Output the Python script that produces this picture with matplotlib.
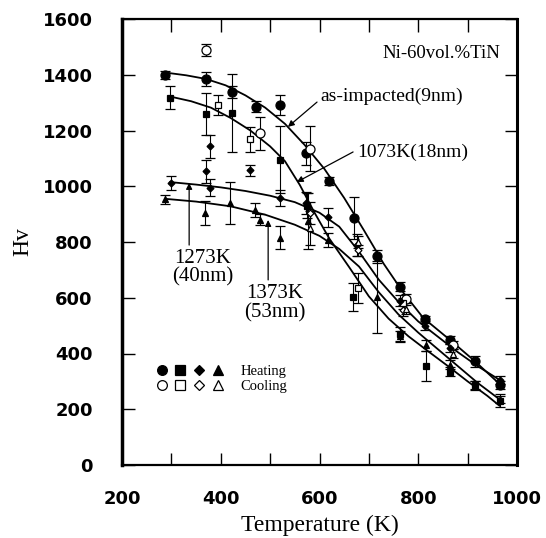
import matplotlib
matplotlib.use('Agg')
import matplotlib.pyplot as plt
from matplotlib.legend_handler import HandlerTuple
from matplotlib.lines import Line2D

# ---------------- data ----------------
# fitted curves
A_curve_x = [287, 330, 370, 410, 450, 490, 530, 570, 610, 650, 690, 730, 770, 810, 864, 915, 965]
A_curve_y = [1408, 1398, 1385, 1362, 1326, 1282, 1224, 1148, 1062, 958, 842, 722, 618, 528, 449, 372, 290]

B_curve_x = [297, 340, 380, 420, 460, 500, 530, 560, 590, 620, 660, 700, 740, 780, 820, 860, 900, 940, 965]
B_curve_y = [1322, 1305, 1282, 1245, 1200, 1143, 1090, 1005, 905, 812, 710, 605, 525, 462, 408, 355, 300, 248, 212]

C_curve_x = [297, 350, 400, 450, 500, 550, 600, 640, 680, 720, 760, 800, 840, 880, 920, 965]
C_curve_y = [1015, 1006, 996, 983, 966, 943, 905, 855, 765, 665, 585, 515, 460, 405, 355, 305]

D_curve_x = [287, 350, 420, 490, 550, 600, 640, 680, 720, 760, 800, 840, 880, 920, 965]
D_curve_y = [955, 945, 928, 898, 862, 822, 775, 712, 620, 540, 475, 415, 355, 295, 235]

# as-impacted (9nm): circles
A_heat_x = [287, 370, 422, 471, 520, 572, 620, 670, 717, 763, 813, 864, 915, 965]
A_heat_y = [1400, 1385, 1338, 1285, 1292, 1118, 1018, 885, 748, 640, 522, 448, 372, 288]
A_heat_e = [15, 25, 20, 20, 35, 40, 15, 75, 25, 15, 12, 15, 20, 15]
A_cool_x = [370, 479, 581, 775, 870]
A_cool_y = [1490, 1190, 1135, 595, 430]
A_cool_e = [22, 60, 80, 20, 15]

# 1073K (18nm): squares
B_heat_x = [297, 370, 422, 520, 574, 668, 763, 815, 864, 915, 965]
B_heat_y = [1318, 1258, 1262, 1095, 930, 604, 470, 355, 335, 288, 228]
B_heat_e = [40, 75, 140, 120, 45, 50, 25, 55, 15, 15, 20]
B_cool_x = [395, 459, 678, 770]
B_cool_y = [1292, 1168, 635, 580]
B_cool_e = [35, 45, 55, 20]

# 1273K (40nm): diamonds
C_heat_x = [300, 370, 378, 378, 459, 520, 572, 617, 675, 763, 813, 864, 965]
C_heat_y = [1010, 1053, 1143, 995, 1058, 958, 940, 888, 790, 590, 500, 420, 305]
C_heat_e = [25, 40, 40, 30, 20, 30, 40, 35, 40, 20, 15, 15, 15]
C_cool_x = [580, 678, 770]
C_cool_y = [905, 770, 555]
C_cool_e = [40, 20, 20]

# 1373K (53nm): triangles
D_heat_x = [287, 369, 419, 469, 479, 520, 577, 617, 716, 763, 815, 864, 915, 965]
D_heat_y = [954, 904, 940, 916, 880, 815, 875, 808, 604, 461, 430, 360, 285, 238]
D_heat_e = [16, 42, 75, 25, 20, 41, 100, 25, 129, 20, 20, 15, 15, 15]
D_cool_x = [580, 678, 775, 870]
D_cool_y = [850, 800, 560, 400]
D_cool_e = [60, 20, 20, 15]

x_ticks = [200, 300, 400, 500, 600, 700, 800, 900, 1000]
x_tick_labels = ['200', '', '400', '', '600', '', '800', '', '1000']
y_ticks = [0, 200, 400, 600, 800, 1000, 1200, 1400, 1600]

# ---------------- figure ----------------
serif = 'Liberation Serif'
fig = plt.figure(figsize=(5.46, 5.38), dpi=100)
ax = fig.add_axes([122/546, 73/538, 395/546, 446/538])

for cx, cy in [(A_curve_x, A_curve_y), (B_curve_x, B_curve_y),
               (C_curve_x, C_curve_y), (D_curve_x, D_curve_y)]:
    ax.plot(cx, cy, color='black', lw=1.3, solid_capstyle='round')

eb = dict(ecolor='black', elinewidth=0.8, capsize=3.5, capthick=0.8,
          linestyle='none', mec='black', mew=0.9)
series = [
    (A_heat_x, A_heat_y, A_heat_e, 'o', 6.5, 'black'),
    (A_cool_x, A_cool_y, A_cool_e, 'o', 6.5, 'white'),
    (B_heat_x, B_heat_y, B_heat_e, 's', 5.0, 'black'),
    (B_cool_x, B_cool_y, B_cool_e, 's', 5.0, 'white'),
    (C_heat_x, C_heat_y, C_heat_e, 'D', 3.5, 'black'),
    (C_cool_x, C_cool_y, C_cool_e, 'D', 3.5, 'white'),
    (D_heat_x, D_heat_y, D_heat_e, '^', 5.0, 'black'),
    (D_cool_x, D_cool_y, D_cool_e, '^', 5.0, 'white'),
]
for sx, sy, se, m, ms, fc in series:
    ax.errorbar(sx, sy, yerr=se, marker=m, ms=ms, mfc=fc, **eb)

# annotations
arrow = dict(arrowstyle='-|>', color='black', lw=0.9, mutation_scale=9,
             shrinkA=0, shrinkB=0)
ax.text(966, 1475, 'Ni-60vol.%TiN', family=serif, fontsize=13.5, ha='right', va='center')
ax.text(601, 1322, 'as-impacted(9nm)', family=serif, fontsize=14, ha='left', va='center')
ax.annotate('', xy=(536, 1213), xytext=(595, 1302), arrowprops=arrow)
ax.text(676, 1123, '1073K(18nm)', family=serif, fontsize=14, ha='left', va='center')
ax.annotate('', xy=(554, 1015), xytext=(668, 1123), arrowprops=arrow)
ax.text(364, 708, '1273K\n(40nm)', family=serif, fontsize=15, ha='center', va='center',
        linespacing=1.0)
ax.annotate('', xy=(336, 1012), xytext=(336, 789), arrowprops=arrow)
ax.text(510, 579, '1373K\n(53nm)', family=serif, fontsize=15, ha='center', va='center',
        linespacing=1.0)
ax.annotate('', xy=(496, 879), xytext=(496, 664), arrowprops=arrow)

# legend
def mk(m, ms, fc):
    return Line2D([], [], marker=m, ms=ms, mfc=fc, mec='black', mew=0.9, ls='none')
heat = (mk('o', 7, 'black'), mk('s', 6.5, 'black'), mk('D', 5.5, 'black'), mk('^', 6.5, 'black'))
cool = (mk('o', 7, 'white'), mk('s', 6.5, 'white'), mk('D', 5.5, 'white'), mk('^', 6.5, 'white'))
leg = ax.legend([heat, cool], ['Heating', 'Cooling'],
                handler_map={tuple: HandlerTuple(ndivide=None, pad=0.3)},
                loc='upper left', bbox_to_anchor=(0.083, 0.224), frameon=False,
                prop={'family': serif, 'size': 10.5}, handlelength=4.8,
                handletextpad=1.1, labelspacing=0.12, borderpad=0, borderaxespad=0)

# axes styling
ax.set_xlim(200, 1000)
ax.set_ylim(0, 1600)
ax.set_xticks(x_ticks)
ax.set_xticklabels(x_tick_labels)
ax.set_yticks(y_ticks)
ax.set_yticklabels([str(v) for v in y_ticks])
ax.tick_params(axis='both', direction='in', length=9, width=1.0, top=True, right=True)
ax.tick_params(axis='y', pad=21)
ax.tick_params(axis='x', pad=18)
for lab in ax.get_xticklabels() + ax.get_yticklabels():
    lab.set_family('DejaVu Sans')
    lab.set_fontweight('bold')
    lab.set_fontsize(13)
ax.spines['left'].set_linewidth(2.5)
ax.spines['right'].set_linewidth(2.2)
ax.spines['top'].set_linewidth(1.6)
ax.spines['bottom'].set_linewidth(1.6)

ax.set_xlabel('Temperature (K)', family=serif, fontsize=17, labelpad=5)
ax.set_ylabel('Hv', family=serif, fontsize=17, labelpad=7)

fig.savefig('out.png', dpi=100)
